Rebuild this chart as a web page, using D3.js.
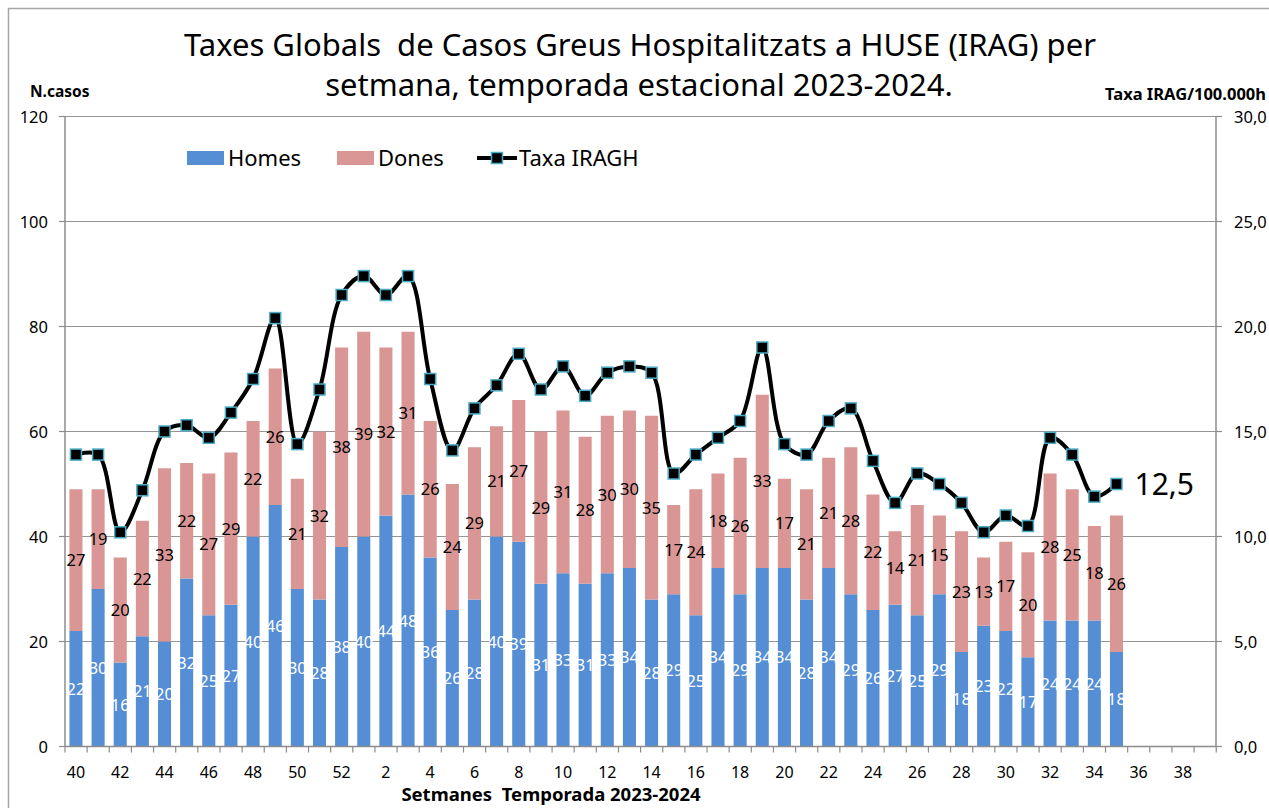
<!DOCTYPE html>
<html>
<head>
<meta charset="utf-8">
<script src="https://cdn.jsdelivr.net/npm/d3@7"></script>
<style>
  body { margin: 0; background: #fff; }
  svg { font-family: "Noto Sans", "Open Sans", sans-serif; }
</style>
</head>
<body>
<div class="canvas"></div>
<script>
// weeks on the x axis (season 2023-2024)
const weeks = [40,41,42,43,44,45,46,47,48,49,50,51,52,
  1,2,3,4,5,6,7,8,9,10,11,12,13,14,15,16,17,18,19,20,21,22,23,24,25,26,27,28,29,30,31,32,33,34,35,36,37,38,39];

const homes = [22,30,16,21,20,32,25,27,40,46,30,28,38,40,44,48,36,26,28,40,39,31,33,31,33,34,28,29,25,34,29,34,34,28,34,29,26,27,25,29,18,23,22,17,24,24,24,18];
const dones = [27,19,20,22,33,22,27,29,22,26,21,32,38,39,32,31,26,24,29,21,27,29,31,28,30,30,35,17,24,18,26,33,17,21,21,28,22,14,21,15,23,13,17,20,28,25,18,26];
const taxa  = [13.9,13.9,10.2,12.2,15.0,15.3,14.7,15.9,17.5,20.4,14.4,17.0,21.5,22.4,21.5,22.4,17.5,14.1,16.1,17.2,18.7,17.0,18.1,16.7,17.8,18.1,17.8,13.0,13.9,14.7,15.5,19.0,14.4,13.9,15.5,16.1,13.6,11.6,13.0,12.5,11.6,10.2,11.0,10.5,14.7,13.9,11.9,12.5];

const leftTicks = [0,20,40,60,80,100,120];
const rightTicks = [0,5,10,15,20,25,30];

const W = 1269, H = 808;
const m = { left: 65, right: 1216, top: 116.5, bottom: 746.5 };
const blue = "#558ed5", pink = "#d99694";

const svg = d3.select(".canvas").append("svg")
  .attr("width", W).attr("height", H);

// outer frame
svg.append("rect")
  .attr("x", 8.5).attr("y", 8.5)
  .attr("width", W).attr("height", H)
  .attr("fill", "none").attr("stroke", "#a6a6a6").attr("stroke-width", 1.5);

const x = d3.scaleBand()
  .domain(weeks.map((w, i) => i))
  .range([m.left, m.right])
  .paddingInner(0.41).paddingOuter(0.2);

const y = d3.scaleLinear().domain([0, 120]).range([m.bottom, m.top]);
const y2 = d3.scaleLinear().domain([0, 30]).range([m.bottom, m.top]);

// gridlines
svg.append("g")
  .selectAll("line")
  .data(leftTicks.slice(1))
  .join("line")
  .attr("x1", m.left).attr("x2", m.right)
  .attr("y1", d => y(d)).attr("y2", d => y(d))
  .attr("stroke", "#959595").attr("stroke-width", 1.2);

// stacked bars
const rows = homes.map((h, i) => ({ i, h, d: dones[i] }));
const bars = svg.append("g");
bars.selectAll(".h")
  .data(rows)
  .join("rect")
  .attr("x", d => x(d.i)).attr("width", x.bandwidth())
  .attr("y", d => y(d.h)).attr("height", d => y(0) - y(d.h))
  .attr("fill", blue);
bars.selectAll(".d")
  .data(rows)
  .join("rect")
  .attr("x", d => x(d.i)).attr("width", x.bandwidth())
  .attr("y", d => y(d.h + d.d)).attr("height", d => y(d.h) - y(d.h + d.d))
  .attr("fill", pink);

// axes
const axisColor = "#8c8c8c";
const xAxis = svg.append("g");
xAxis.append("line")
  .attr("x1", m.left).attr("x2", m.right)
  .attr("y1", m.bottom).attr("y2", m.bottom)
  .attr("stroke", axisColor).attr("stroke-width", 1.5);
const step = x.step();
const bounds = d3.range(weeks.length + 1).map(k => m.left + k * step);
xAxis.selectAll(".tk")
  .data(bounds)
  .join("line")
  .attr("x1", d => d).attr("x2", d => d)
  .attr("y1", m.bottom).attr("y2", m.bottom + 6)
  .attr("stroke", axisColor).attr("stroke-width", 1.2);
xAxis.selectAll("text")
  .data(weeks.map((w, i) => ({ w, i })).filter(d => d.i % 2 === 0))
  .join("text")
  .attr("x", d => x(d.i) + x.bandwidth() / 2)
  .attr("y", m.bottom + 31)
  .attr("text-anchor", "middle")
  .attr("font-size", 16)
  .text(d => d.w);

const yAxisL = svg.append("g");
yAxisL.append("line")
  .attr("x1", m.left).attr("x2", m.left)
  .attr("y1", m.top).attr("y2", m.bottom)
  .attr("stroke", axisColor).attr("stroke-width", 1.5);
yAxisL.selectAll("line.t")
  .data(leftTicks)
  .join(enter => enter.append("line").attr("class", "t"))
  .attr("x1", m.left - 6).attr("x2", m.left)
  .attr("y1", d => y(d)).attr("y2", d => y(d))
  .attr("stroke", axisColor).attr("stroke-width", 1.2);
yAxisL.selectAll("text")
  .data(leftTicks)
  .join("text")
  .attr("x", 48).attr("y", d => y(d) + 6)
  .attr("text-anchor", "end")
  .attr("font-size", 16.5)
  .text(d => d);

const fmt = d => d.toFixed(1).replace(".", ",");
const yAxisR = svg.append("g");
yAxisR.append("line")
  .attr("x1", m.right).attr("x2", m.right)
  .attr("y1", m.top).attr("y2", m.bottom)
  .attr("stroke", axisColor).attr("stroke-width", 1.5);
yAxisR.selectAll("line.t")
  .data(rightTicks)
  .join(enter => enter.append("line").attr("class", "t"))
  .attr("x1", m.right).attr("x2", m.right + 6)
  .attr("y1", d => y2(d)).attr("y2", d => y2(d))
  .attr("stroke", axisColor).attr("stroke-width", 1.2);
yAxisR.selectAll("text")
  .data(rightTicks)
  .join("text")
  .attr("x", 1234).attr("y", d => y2(d) + 6)
  .attr("font-size", 16.5)
  .text(fmt);

// data labels
const cx = i => x(i) + x.bandwidth() / 2;
svg.append("g").selectAll("text")
  .data(rows)
  .join("text")
  .attr("x", d => cx(d.i)).attr("y", d => (y(0) + y(d.h)) / 2 + 6)
  .attr("text-anchor", "middle").attr("font-size", 16.5).attr("fill", "#fff")
  .text(d => d.h);
svg.append("g").selectAll("text")
  .data(rows)
  .join("text")
  .attr("x", d => cx(d.i)).attr("y", d => (y(d.h) + y(d.h + d.d)) / 2 + 6)
  .attr("text-anchor", "middle").attr("font-size", 16.5).attr("fill", "#000")
  .text(d => d.d);

// rate line
const line = d3.line()
  .x((d, i) => cx(i))
  .y(d => y2(d))
  .curve(d3.curveCatmullRom.alpha(0.5));

svg.append("path")
  .datum(taxa)
  .attr("d", line)
  .attr("fill", "none").attr("stroke", "#000").attr("stroke-width", 4);

svg.append("g").selectAll("rect")
  .data(taxa)
  .join("rect")
  .attr("x", (d, i) => cx(i) - 5.5).attr("y", d => y2(d) - 5.5)
  .attr("width", 11).attr("height", 11)
  .attr("fill", "#000").attr("stroke", "#4bacc6").attr("stroke-width", 1.5);

svg.append("text")
  .attr("x", cx(taxa.length - 1) + 18).attr("y", y2(taxa[taxa.length - 1]) + 11)
  .attr("font-size", 30)
  .text(fmt(taxa[taxa.length - 1]));

// titles
const title = svg.append("g").attr("font-size", 31).attr("text-anchor", "middle");
title.append("text").attr("x", 640).attr("y", 56)
  .text("Taxes Globals\u00a0 de Casos Greus Hospitalitzats a HUSE (IRAG) per");
title.append("text").attr("x", 639).attr("y", 96)
  .text("setmana, temporada estacional 2023-2024.");

svg.append("text").attr("x", 30).attr("y", 97)
  .attr("font-size", 15.5).attr("font-weight", "bold").text("N.casos");
svg.append("text").attr("x", 1266).attr("y", 100)
  .attr("font-size", 16.5).attr("font-weight", "bold").attr("text-anchor", "end")
  .text("Taxa IRAG/100.000h");
svg.append("text").attr("x", 551).attr("y", 801)
  .attr("font-size", 18.5).attr("font-weight", "bold").attr("text-anchor", "middle")
  .text("Setmanes\u00a0 Temporada 2023-2024");

// legend
const lg = svg.append("g").attr("font-size", 22);
lg.append("rect").attr("x", 187).attr("y", 151).attr("width", 37).attr("height", 14).attr("fill", blue);
lg.append("text").attr("x", 228).attr("y", 166).text("Homes");
lg.append("rect").attr("x", 337).attr("y", 151).attr("width", 37).attr("height", 14).attr("fill", pink);
lg.append("text").attr("x", 378).attr("y", 166).text("Dones");
lg.append("line").attr("x1", 477).attr("x2", 517).attr("y1", 158).attr("y2", 158)
  .attr("stroke", "#000").attr("stroke-width", 4);
lg.append("rect").attr("x", 491.5).attr("y", 152.5).attr("width", 11).attr("height", 11)
  .attr("fill", "#000").attr("stroke", "#4bacc6").attr("stroke-width", 1.5);
lg.append("text").attr("x", 519).attr("y", 166).text("Taxa IRAGH");
</script>
</body>
</html>
